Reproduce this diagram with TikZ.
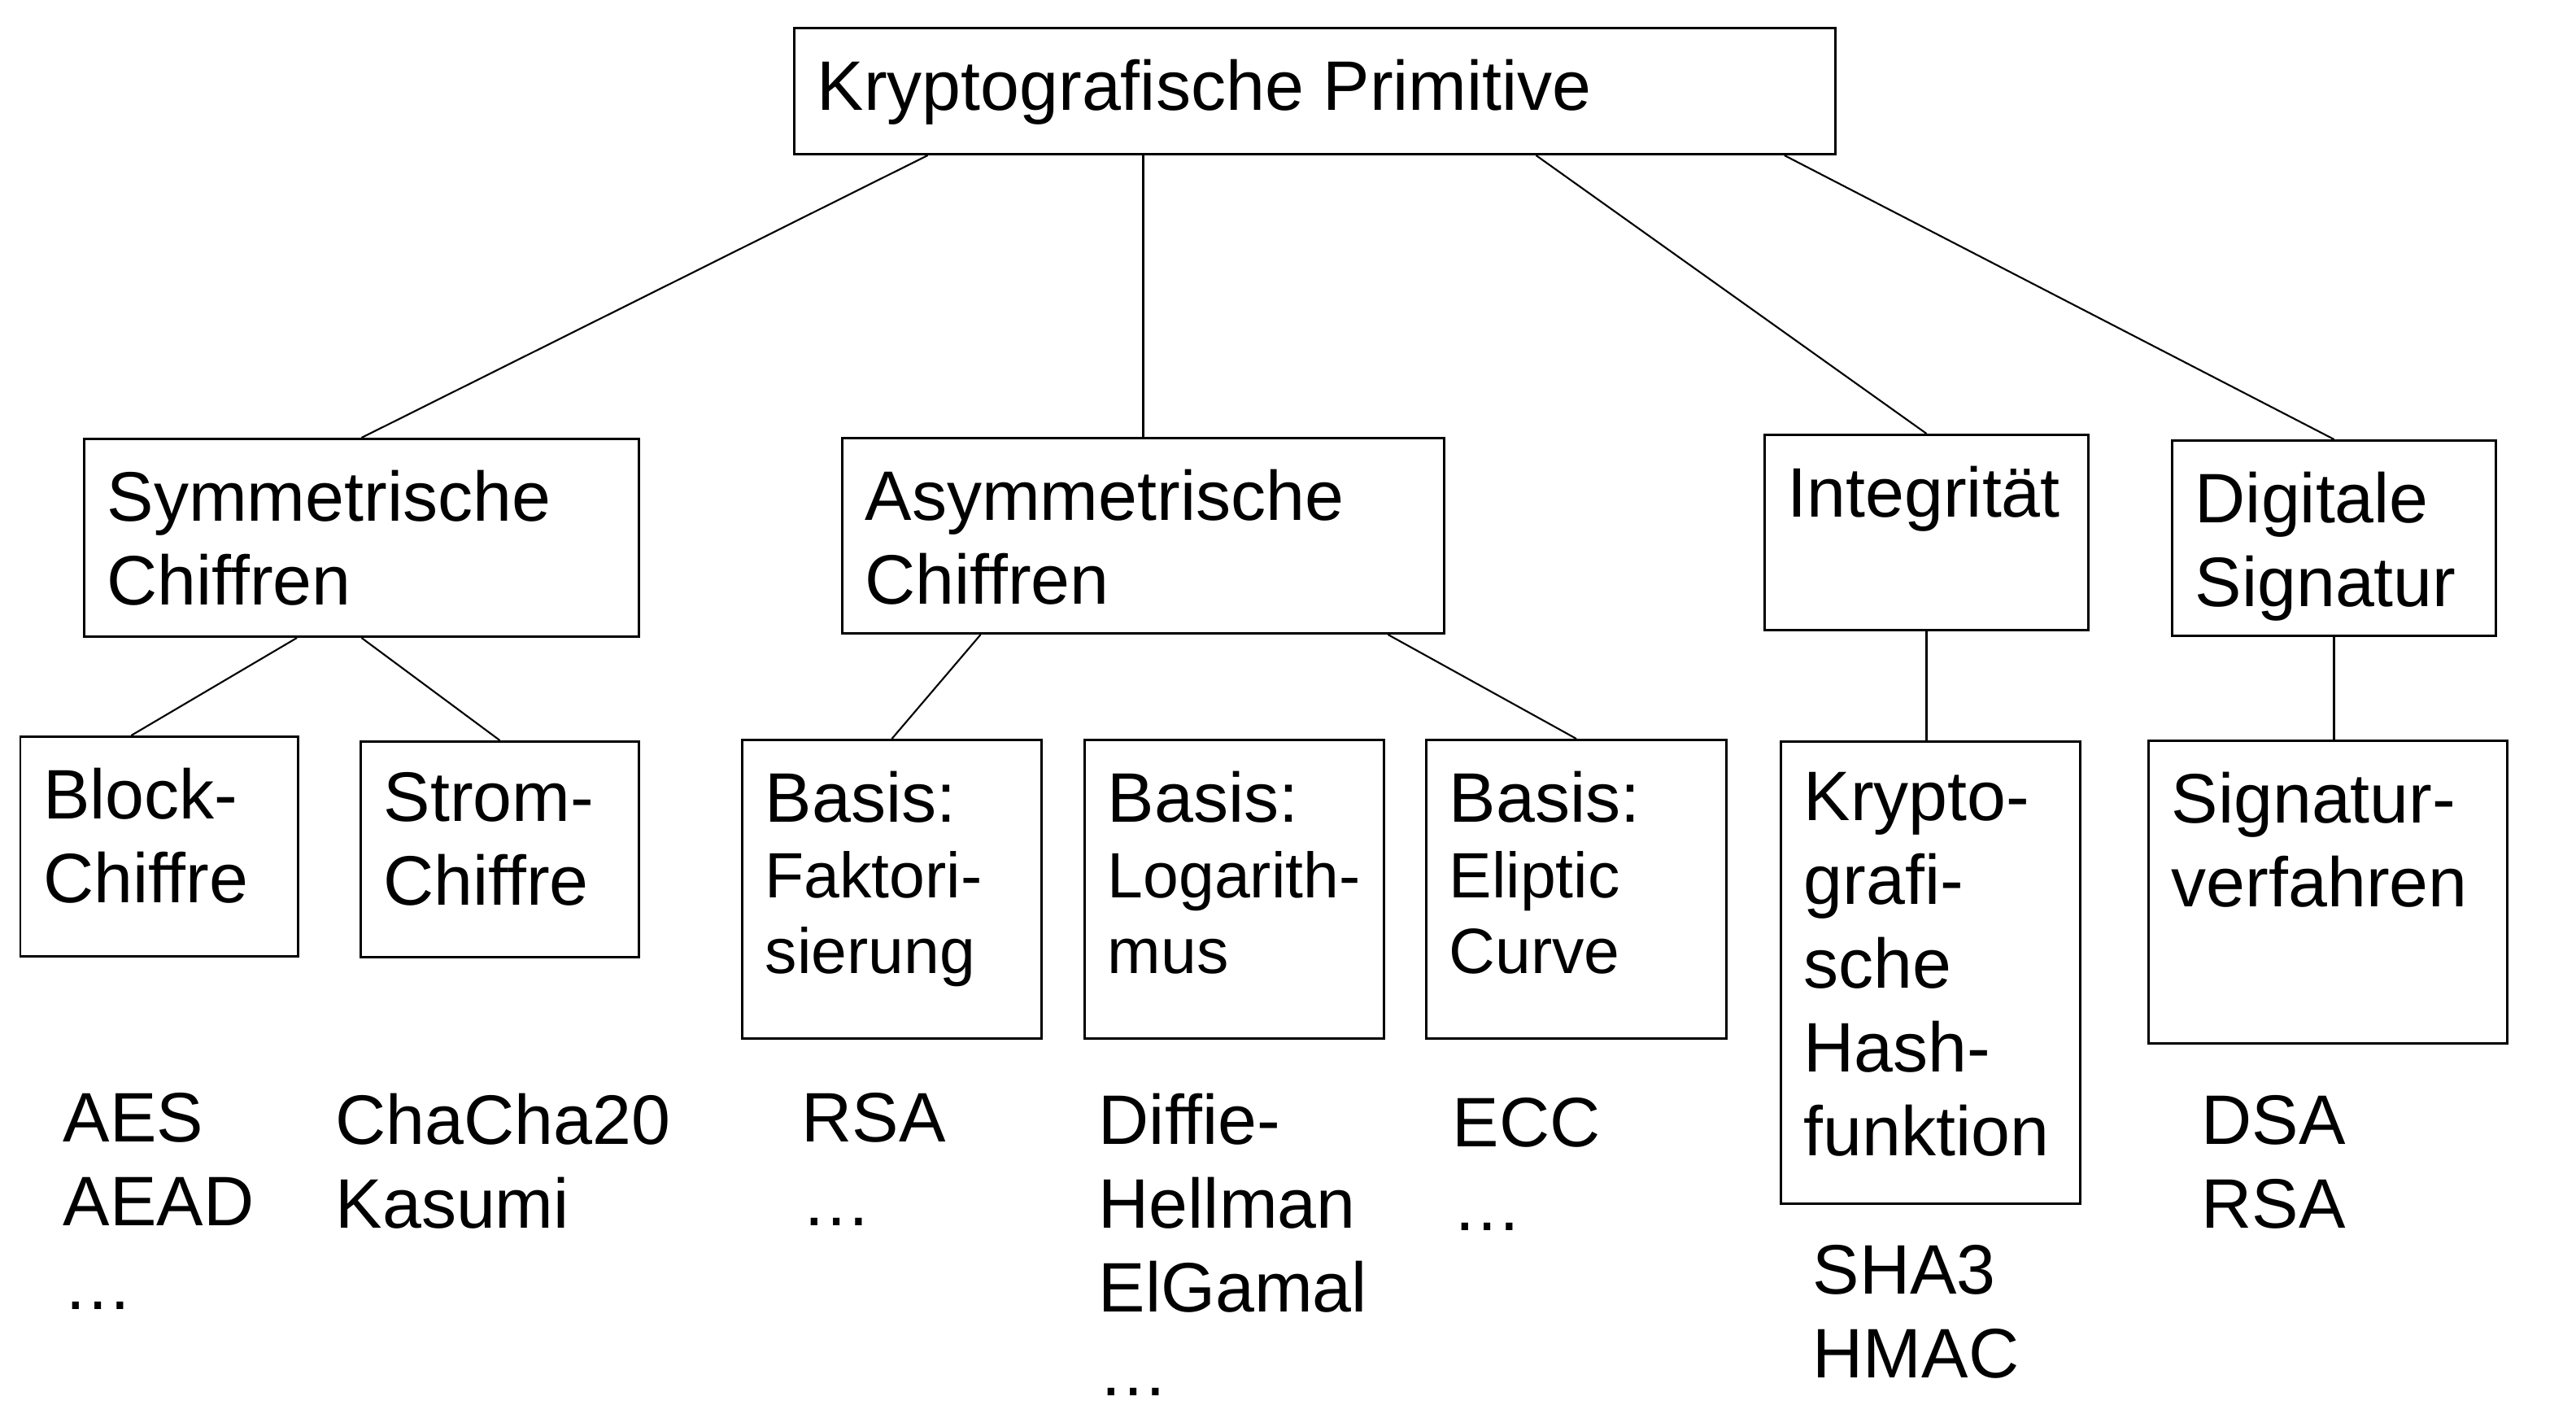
\documentclass[tikz,border=0pt]{standalone}
\usepackage{fontspec}
\setmainfont{Liberation Sans}
\usetikzlibrary{positioning,calc}
\newcommand{\bigtxt}{\fontsize{24.5}{29.3}\selectfont}
\newcommand{\smalltxt}{\fontsize{22.4}{26.5}\selectfont}

\begin{document}
\begin{tikzpicture}[node distance=0.39cm and 0.29cm,
  box/.style={draw,line width=0.85pt,anchor=north west,inner sep=0pt},
  txt/.style={inner sep=0pt,align=left,font=\bigtxt},
  basis/.style={inner sep=0pt,align=left,font=\smalltxt},
  lbl/.style={anchor=north west,inner sep=0pt,align=left,font=\bigtxt},
  link/.style={line width=0.6pt}]
  \useasboundingbox (0,0) rectangle (31.67,-17.37);

  % top
  \node[box,minimum width=12.8cm,minimum height=1.55cm] (prim) at (9.75,-0.33) {};
  \node[txt,below right=of prim.north west] (prim-t) {Kryptografische Primitive};

  % second row
  \node[box,minimum width=6.82cm,minimum height=2.43cm] (sym) at (1.02,-5.38) {};
  \node[txt,below right=of sym.north west] (sym-t) {Symmetrische\\Chiffren};
  \node[box,minimum width=7.40cm,minimum height=2.40cm] (asym) at (10.34,-5.37) {};
  \node[txt,below right=of asym.north west] (asym-t) {Asymmetrische\\Chiffren};
  \node[box,minimum width=3.98cm,minimum height=2.40cm] (integ) at (21.68,-5.33) {};
  \node[txt,below right=of integ.north west] (integ-t) {Integrität};
  \node[box,minimum width=3.98cm,minimum height=2.40cm] (dsig) at (26.69,-5.40) {};
  \node[txt,below right=of dsig.north west] (dsig-t) {Digitale\\Signatur};

  % third row
  \node[box,minimum width=3.415cm,minimum height=2.70cm] (block) at (0.235,-9.04) {};
  \node[txt,below right=of block.north west] (block-t) {Block-\\Chiffre};
  \node[box,minimum width=3.42cm,minimum height=2.65cm] (strom) at (4.42,-9.10) {};
  \node[txt,below right=of strom.north west] (strom-t) {Strom-\\Chiffre};
  \node[box,minimum width=3.68cm,minimum height=3.67cm] (fakt) at (9.11,-9.08) {};
  \node[basis,below right=of fakt.north west] (fakt-t) {{\bigtxt Basis:}\\Faktori-\\sierung};
  \node[box,minimum width=3.68cm,minimum height=3.67cm] (log) at (13.32,-9.08) {};
  \node[basis,below right=of log.north west] (log-t) {{\bigtxt Basis:}\\Logarith-\\mus};
  \node[box,minimum width=3.69cm,minimum height=3.67cm] (ell) at (17.52,-9.08) {};
  \node[basis,below right=of ell.north west] (ell-t) {{\bigtxt Basis:}\\Eliptic\\Curve};
  \node[box,minimum width=3.68cm,minimum height=5.68cm] (hash) at (21.88,-9.10) {};
  \node[txt,below right=of hash.north west] (hash-t) {Krypto-\\grafi-\\sche\\Hash-\\funktion};
  \node[box,minimum width=4.41cm,minimum height=3.72cm] (sigv) at (26.40,-9.09) {};
  \node[txt,below right=of sigv.north west] (sigv-t) {Signatur-\\verfahren};

  % examples
  \node[lbl] (ex-block) at (0.77,-13.43) {AES\\AEAD\\…};
  \node[lbl] (ex-strom) at (4.12,-13.43) {ChaCha20\\Kasumi};
  \node[lbl] (ex-fakt) at (9.85,-13.43) {RSA\\…};
  \node[lbl] (ex-log) at (13.50,-13.43) {Diffie-\\Hellman\\ElGamal\\…};
  \node[lbl] (ex-ell) at (17.85,-13.49) {ECC\\…};
  \node[lbl] (ex-hash) at (22.28,-15.30) {SHA3\\HMAC};
  \node[lbl] (ex-sigv) at (27.06,-13.46) {DSA\\RSA};

  % connectors
  \draw[link] ($(prim.south west)!.129!(prim.south east)$) -- (sym.north);
  \draw[link] (asym.north |- prim.south) -- (asym.north);
  \draw[link] ($(prim.south west)!.712!(prim.south east)$) -- (integ.north);
  \draw[link] ($(prim.south west)!.95!(prim.south east)$) -- (dsig.north);
  \draw[link] ($(sym.south west)!.384!(sym.south east)$) -- ($(block.north west)!.40!(block.north east)$);
  \draw[link] (sym.south) -- (strom.north);
  \draw[link] ($(asym.south west)!.231!(asym.south east)$) -- (fakt.north);
  \draw[link] ($(log.north west)!.44!(log.north east)$ |- asym.south) -- ($(log.north west)!.44!(log.north east)$);
  \draw[link] ($(asym.south west)!.905!(asym.south east)$) -- (ell.north);
  \draw[link] (integ.south) -- (integ.south |- hash.north);
  \draw[link] (dsig.south) -- (dsig.south |- sigv.north);
\end{tikzpicture}
\end{document}
